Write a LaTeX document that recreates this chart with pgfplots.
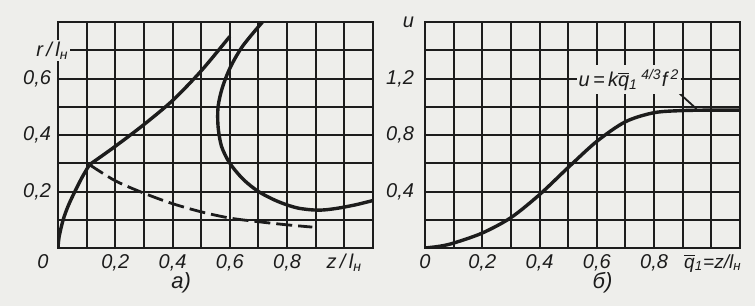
\documentclass[border=0pt]{standalone}
\usepackage{fontspec}
\setmainfont{Liberation Sans}
\usepackage{pgfplots}
\pgfplotsset{compat=1.18}
\definecolor{bg}{RGB}{238,238,235}
\definecolor{ink}{RGB}{28,28,28}
\newcommand{\lf}{\fontsize{10}{12}\selectfont\itshape}
\begin{document}
\begin{tikzpicture}[font=\lf]
\fill[bg] (-29pt,-29pt) rectangle (348.5pt,124pt);
\useasboundingbox (-29pt,-29pt) rectangle (348.5pt,124pt);
\pgfplotsset{
  panel/.style={
    scale only axis, width=157.5pt, height=113pt,
    axis line style={ink, line width=1.1pt},
    grid=major, major grid style={ink, line width=1pt},
    major tick length=0pt, tick style={draw=none},
    ticklabel style={font=\lf, text=ink},
    xticklabel style={anchor=base, yshift=-10pt, inner sep=1pt},
    yticklabel style={anchor=east},
    xmin=0, xmax=1.1, ymin=0,
    xtick={0,0.1,0.2,0.3,0.4,0.5,0.6,0.7,0.8,0.9,1.0,1.1},
    clip=true,
  }
}
% ---------- panel a ----------
\begin{axis}[panel, at={(0pt,0pt)}, anchor=south west,
  ymax=0.8,
  ytick={0,0.1,0.2,0.3,0.4,0.5,0.6,0.7,0.8},
  xticklabels={,,{0,2},,{0,4},,{0,6},,{0,8},,{z\,/\,l\textsubscript{н}},},
  yticklabels={,,{0,2},,{0,4},,{0,6},,},
]
\addplot[ink, line width=1.7pt, smooth, no marks] coordinates {
(0,0)(0.004,0.04)(0.018,0.1)(0.036,0.15)(0.059,0.2)(0.084,0.25)(0.11,0.295)};
\addplot[ink, line width=1.7pt, smooth, no marks] coordinates {
(0.11,0.295)(0.2,0.36)(0.3,0.437)(0.4,0.522)(0.5,0.627)(0.6,0.749)};
\addplot[ink, line width=1.4pt, smooth, no marks, dash pattern=on 8pt off 3pt] coordinates {
(0.11,0.295)(0.2,0.238)(0.3,0.194)(0.4,0.157)(0.5,0.128)(0.6,0.106)(0.7,0.093)(0.8,0.082)(0.888,0.074)};
\addplot[ink, line width=1.7pt, smooth, no marks] coordinates {
(0.714,0.8)(0.645,0.715)(0.602,0.64)(0.574,0.568)(0.559,0.5)(0.559,0.43)(0.571,0.36)(0.6,0.30)(0.647,0.243)(0.7,0.2)(0.765,0.166)(0.835,0.142)(0.906,0.134)(0.965,0.139)(1.035,0.152)(1.1,0.168)};
\coordinate (rl) at (axis cs:0.045,0.7);
\coordinate (zeroA) at (axis cs:-0.053,0);
\coordinate (capA) at (axis cs:0.43,0);
\end{axis}
\node[fill=bg, anchor=east, inner sep=1pt, text=ink] at (rl) {r\,/\,l\textsubscript{н}};
\node[anchor=base, inner sep=1pt, text=ink] at ([yshift=-10pt]zeroA) {0};
\node[anchor=base, inner sep=1pt, text=ink, font=\fontsize{11}{13}\selectfont\itshape] at ([yshift=-20pt]capA) {а)};
% ---------- panel b ----------
\begin{axis}[panel, at={(183.5pt,0pt)}, anchor=south west,
  ymax=1.6,
  ytick={0,0.2,0.4,0.6,0.8,1.0,1.2,1.4,1.6},
  xticklabels={0,,{0,2},,{0,4},,{0,6},,{0,8},,,},
  yticklabels={,,{0,4},,{0,8},,{1,2},,u},
  yticklabel style={xshift=-2pt},
]
\addplot[ink, line width=1.7pt, smooth, no marks] coordinates {
(0,0)(0.05,0.012)(0.1,0.035)(0.2,0.106)(0.3,0.215)(0.4,0.378)(0.5,0.57)(0.6,0.755)(0.7,0.894)(0.8,0.958)(0.9,0.973)(1.0,0.976)(1.1,0.976)};
\addplot[ink, line width=0.9pt, no marks] coordinates {(0.872,1.125)(0.948,0.985)};
\coordinate (formula) at (axis cs:0.528,1.143);
\coordinate (qlab) at (axis cs:1.1,0);
\coordinate (capB) at (axis cs:0.62,0);
\end{axis}
\node[anchor=base west, fill=bg, inner xsep=1pt, inner ysep=2pt, text=ink] at (formula)
  {u\,=\,k\smash{$\overline{\mbox{\lf q}}$}\textsubscript{1}\,\textsuperscript{4/3}f\,\textsuperscript{2}};
\node[anchor=base east, inner sep=0pt, text=ink, font=\fontsize{9.5}{11}\selectfont\itshape] at ([yshift=-10pt,xshift=1pt]qlab) {$\overline{\mbox{\itshape q}}$\textsubscript{1}=z/l\textsubscript{н}};
\node[anchor=base, inner sep=1pt, text=ink, font=\fontsize{11}{13}\selectfont\itshape] at ([yshift=-20pt]capB) {б)};
\end{tikzpicture}
\end{document}
